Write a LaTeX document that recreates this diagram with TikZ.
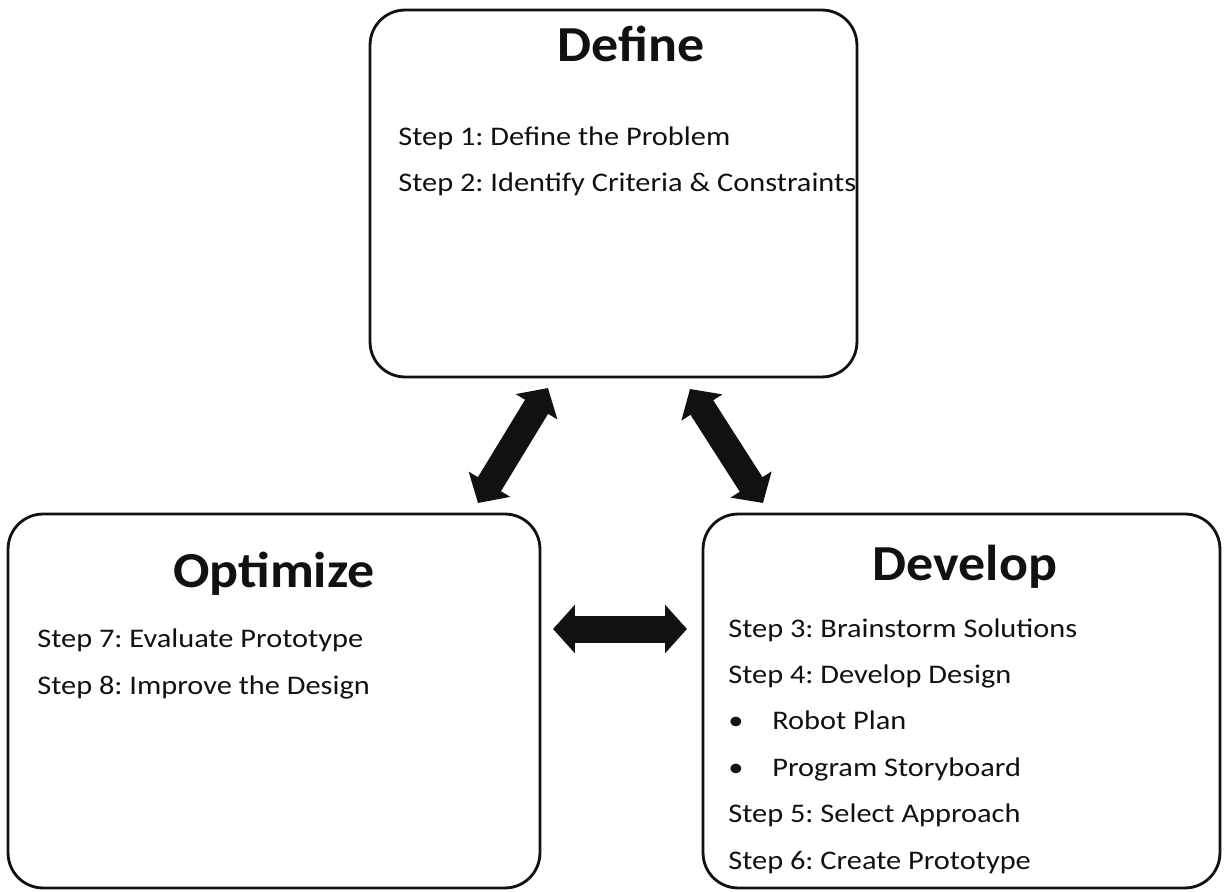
\documentclass[tikz,border=0pt]{standalone}
\usepackage{fontspec}
\setmainfont{Carlito}
\newfontfamily\stepfont[FakeStretch=1.13]{Carlito}
\newfontfamily\headfont[FakeStretch=1.07]{Carlito}
\usetikzlibrary{arrows.meta}
\definecolor{ink}{HTML}{111111}
\frenchspacing
\tikzset{
	stagebox/.style={draw=ink, line width=1.6pt, rounded corners=0.7cm, inner sep=0pt},
	stagetitle/.style={anchor=base, text=ink, inner sep=0pt, font=\headfont\fontsize{28.7}{30}\selectfont\bfseries},
	stagetext/.style={anchor=base west, align=left, text=ink, inner sep=0pt, font=\stepfont\fontsize{15.3}{26.4}\selectfont},
	bigarrow/.style={ink, line width=0.54cm, {Triangle[width=0.95cm, length=0.44cm]}-{Triangle[width=0.95cm, length=0.44cm]}}
}
\begin{document}
\begin{tikzpicture}[x=0.02cm, y=-0.02cm]
	\useasboundingbox (0,0) rectangle (1225,892);
	% boxes
	\node[stagebox, minimum width=9.74cm, minimum height=7.34cm] (def) at (613.5,193.5) {};
	\node[stagebox, minimum width=10.64cm, minimum height=7.48cm] (opt) at (274,701) {};
	\node[stagebox, minimum width=10.34cm, minimum height=7.48cm] (dev) at (961.5,701) {};
	% titles
	\node[stagetitle] (deftitle) at (631,62) {Define};
	\node[stagetitle] (opttitle) at (274,587) {Optimize};
	\node[stagetitle] (devtitle) at (965,580) {Develop};
	% steps (anchored at the last line)
	\node[stagetext] (deftext) at (398,192) {Step 1: Define the Problem\\Step 2: Identify Criteria \& Constraints};
	\node[stagetext] (opttext) at (37,694) {Step 7: Evaluate Prototype\\Step 8: Improve the Design};
	\node[stagetext] (devtext) at (728,869) {Step 3: Brainstorm Solutions\\Step 4: Develop Design\\
		\makebox[0.88cm][l]{•}Robot Plan\\\makebox[0.88cm][l]{•}Program Storyboard\\
		Step 5: Select Approach\\Step 6: Create Prototype};
	% arrows
	\coordinate (defL) at (548,388);
	\coordinate (optT) at (478,503);
	\coordinate (defR) at (690,389);
	\coordinate (devT) at (763,503);
	\coordinate (optR) at (553,629);
	\coordinate (devL) at (687,629);
	\draw[bigarrow] (defL) -- (optT);
	\draw[bigarrow] (defR) -- (devT);
	\draw[bigarrow] (optR) -- (devL);
\end{tikzpicture}
\end{document}
